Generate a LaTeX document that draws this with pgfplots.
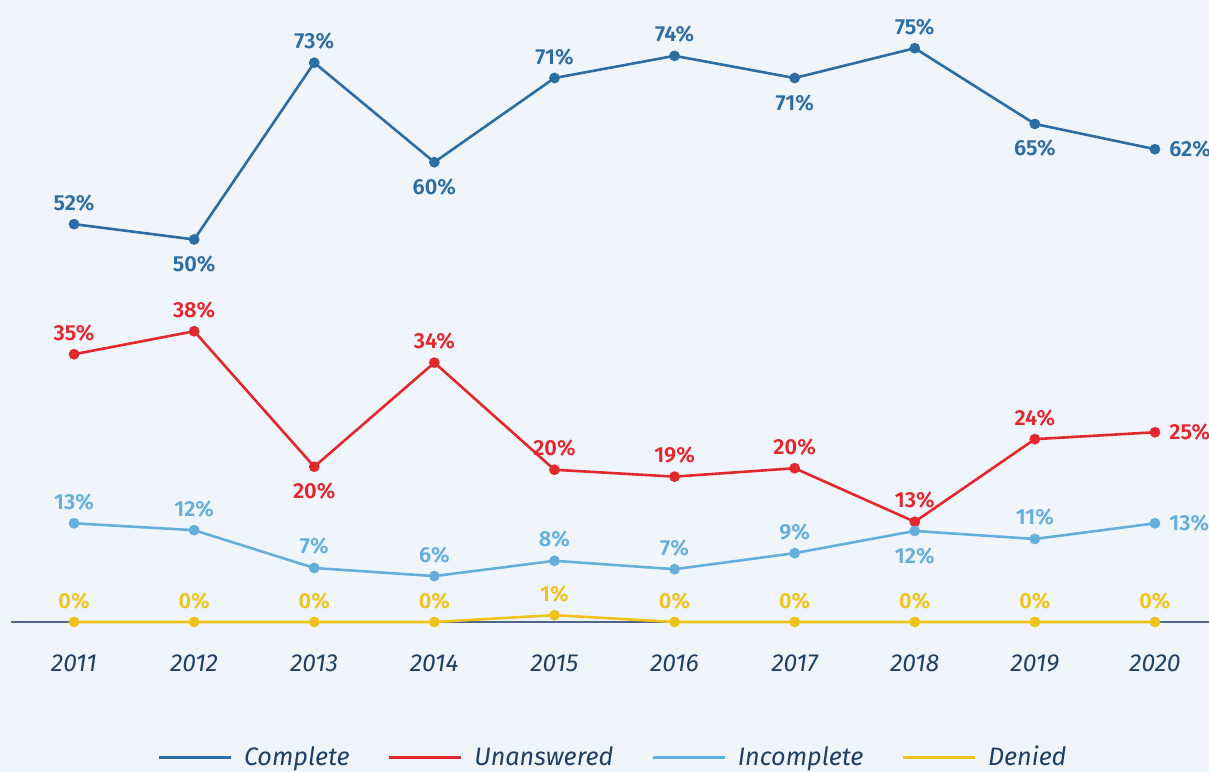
\documentclass[border=0pt]{standalone}
\usepackage{pgfplots}
\pgfplotsset{compat=1.18}
\usepackage{fontspec}
\setmainfont{Fira Sans}
\newfontfamily\sbfont{Fira Sans SemiBold}

\definecolor{bg}{HTML}{F0F5FC}
\definecolor{cComp}{HTML}{2E6DA4}
\definecolor{cUnans}{HTML}{E2282C}
\definecolor{cIncomp}{HTML}{64AEDC}
\definecolor{cDen}{HTML}{EFC21C}
\definecolor{axc}{HTML}{4E6585}
\definecolor{txt}{HTML}{1E3F66}

\pgfplotsset{
  ser/.style={line width=1.3pt, mark=*, mark size=2pt, color=#1},
  lab/.style={
    forget plot, draw=none, mark=none, point meta=explicit symbolic,
    nodes near coords={\pgfplotspointmeta\%},
    every node near coord/.append style={inner sep=0pt, text=#1,
        font=\sbfont\fontsize{10.9}{13}\selectfont},
  },
  labA/.style={lab=#1, every node near coord/.append style={anchor=base, yshift=7pt}},
  labB/.style={lab=#1, every node near coord/.append style={anchor=north, yshift=-8pt}},
  labR/.style={lab=#1, every node near coord/.append style={anchor=west, xshift=7pt}},
}

\begin{document}
\begin{tikzpicture}
\fill[bg] (0,0) rectangle (604.5pt,386pt);
\begin{axis}[
    at={(5.5pt,75pt)}, anchor=south west,
    scale only axis, width=599pt, height=311pt,
    xmin=-0.525, xmax=9.45, ymin=0, ymax=81.3,
    clip=false,
    axis x line=bottom, axis y line=none,
    axis line style={draw=axc, line width=0.8pt, -},
    xtick={0,...,9},
    xticklabels={2011,2012,2013,2014,2015,2016,2017,2018,2019,2020},
    major tick length=0pt,
    xticklabel style={anchor=base, yshift=-24.5pt, inner sep=0pt,
        font=\itshape\fontsize{12.3}{14}\selectfont, text=txt},
    legend style={at={(0.5033,-0.2175)}, anchor=center, draw=none, fill=none,
        legend columns=4, font=\itshape\fontsize{12.6}{14}\selectfont, text=txt,
        /tikz/every even column/.append style={column sep=17pt}},
    legend image code/.code={\draw[#1] (0pt,0pt) -- (36pt,0pt); \path (40pt,0pt);},
]
% series
\addplot[ser=cComp] coordinates {(0,52) (1,50) (2,73.1) (3,60.1) (4,71.1)
    (5,74) (6,71.1) (7,75) (8,65.1) (9,61.8)};
\addlegendentry{Complete}
\addplot[ser=cUnans] coordinates {(0,35) (1,38) (2,20.3) (3,33.9) (4,19.9)
    (5,19) (6,20.1) (7,13.1) (8,23.9) (9,24.8)};
\addlegendentry{Unanswered}
\addplot[ser=cIncomp] coordinates {(0,12.9) (1,12) (2,7.06) (3,6) (4,8)
    (5,6.9) (6,9) (7,11.9) (8,10.85) (9,12.9)};
\addlegendentry{Incomplete}
\addplot[ser=cDen] coordinates {(0,0) (1,0) (2,0) (3,0) (4,0.9)
    (5,0) (6,0) (7,0) (8,0) (9,0)};
\addlegendentry{Denied}

% value labels
\addplot[labA=cComp] coordinates {(0,52)[52] (2,73.1)[73] (4,71.1)[71] (5,74)[74] (7,75)[75]};
\addplot[labB=cComp] coordinates {(1,50)[50] (3,60.1)[60] (6,71.1)[71] (8,65.1)[65]};
\addplot[labR=cComp] coordinates {(9,61.8)[62]};

\addplot[labA=cUnans] coordinates {(0,35)[35] (1,38)[38] (3,33.9)[34] (4,19.9)[20]
    (5,19)[19] (6,20.1)[20] (7,13.1)[13] (8,23.9)[24]};
\addplot[labB=cUnans] coordinates {(2,20.3)[20]};
\addplot[labR=cUnans] coordinates {(9,24.8)[25]};

\addplot[labA=cIncomp] coordinates {(0,12.9)[13] (1,12)[12] (2,7.06)[7] (3,6)[6]
    (4,8)[8] (5,6.9)[7] (6,9)[9] (8,10.85)[11]};
\addplot[labB=cIncomp] coordinates {(7,11.9)[12]};
\addplot[labR=cIncomp] coordinates {(9,12.9)[13]};

\addplot[labA=cDen] coordinates {(0,0)[0] (1,0)[0] (2,0)[0] (3,0)[0] (4,0.9)[1]
    (5,0)[0] (6,0)[0] (7,0)[0] (8,0)[0] (9,0)[0]};
\end{axis}
\pgfresetboundingbox
\path (0,0) rectangle (604.5pt,386pt);
\end{tikzpicture}
\end{document}
